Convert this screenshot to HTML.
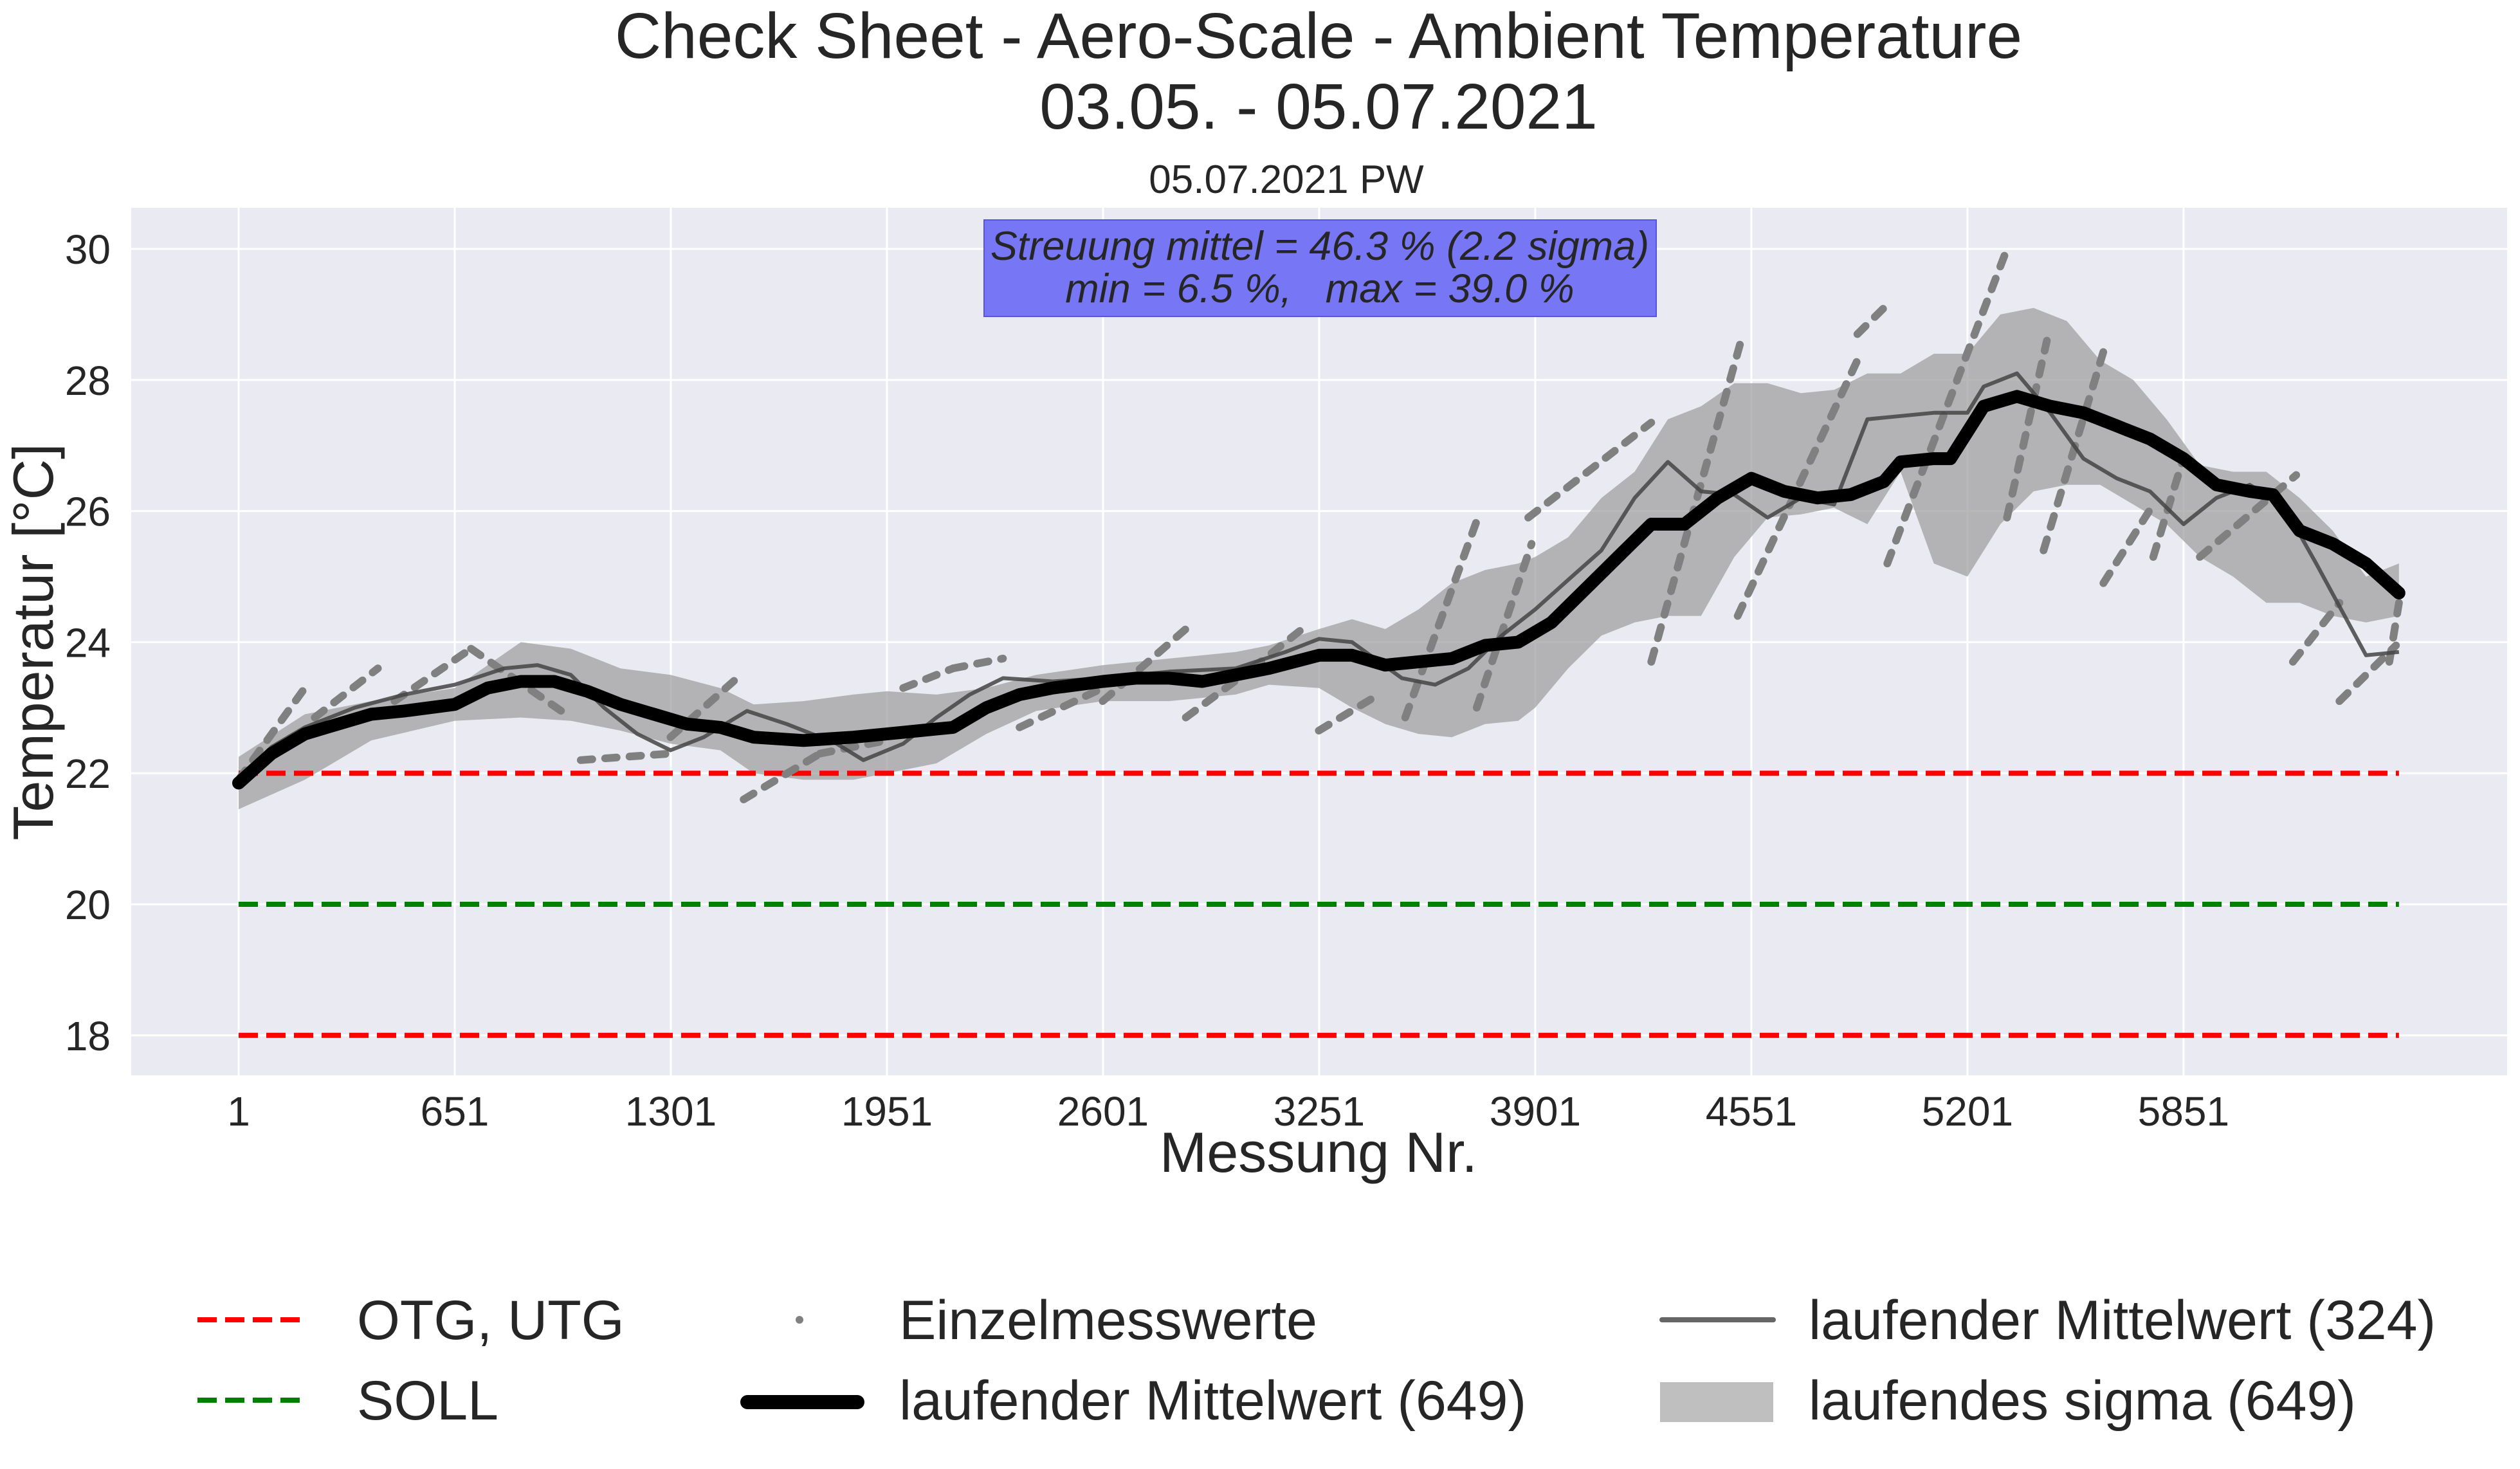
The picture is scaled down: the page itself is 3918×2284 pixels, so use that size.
<!DOCTYPE html>
<html><head><meta charset="utf-8">
<style>
html,body{margin:0;padding:0;background:#fff;}
svg{display:block;font-family:"Liberation Sans",sans-serif;}
</style></head>
<body>
<svg id="chart" width="3918" height="2284" viewBox="0 0 3918 2284" xmlns="http://www.w3.org/2000/svg">
<rect width="3918" height="2284" fill="#fff"/>
<text x="2050" y="90" font-size="100" text-anchor="middle" fill="#262626">Check Sheet - Aero-Scale - Ambient Temperature</text>
<text x="2050" y="200" font-size="100" text-anchor="middle" fill="#262626">03.05. - 05.07.2021</text>
<text x="2000" y="300" font-size="62" text-anchor="middle" fill="#262626">05.07.2021 PW</text>
<rect x="204" y="323" width="3694" height="1349" fill="#eaeaf2"/>
<g id="grid"></g>
<g id="marks"></g>
<g id="axes"></g>
<rect x="1530" y="342" width="1045" height="150" fill="#7777f5" stroke="#5555dd" stroke-width="2"/>
<text x="2052" y="404" font-size="63" font-style="italic" text-anchor="middle" fill="#262626">Streuung mittel = 46.3 % (2.2 sigma)</text>
<text x="2052" y="470" font-size="63" font-style="italic" text-anchor="middle" fill="#262626" xml:space="preserve">min = 6.5 %,   max = 39.0 %</text>
<text transform="translate(82,998) rotate(-90)" font-size="88" text-anchor="middle" fill="#262626">Temperatur [°C]</text>
<text x="2050" y="1822" font-size="88" text-anchor="middle" fill="#262626">Messung Nr.</text>
<g font-size="86" fill="#262626">
  <line x1="307" y1="2052" x2="474" y2="2052" stroke="#ff0000" stroke-width="8" stroke-dasharray="30,13"/>
  <text x="555" y="2082">OTG, UTG</text>
  <line x1="307" y1="2177" x2="474" y2="2177" stroke="#008000" stroke-width="8" stroke-dasharray="30,13"/>
  <text x="555" y="2207">SOLL</text>
  <circle cx="1243" cy="2052" r="6" fill="#808080"/>
  <text x="1398" y="2082">Einzelmesswerte</text>
  <line x1="1162" y1="2180" x2="1333" y2="2180" stroke="#000" stroke-width="22" stroke-linecap="round"/>
  <text x="1398" y="2207">laufender Mittelwert (649)</text>
  <line x1="2584" y1="2052" x2="2757" y2="2052" stroke="#666" stroke-width="8" stroke-linecap="round"/>
  <text x="2812" y="2082">laufender Mittelwert (324)</text>
  <rect x="2581" y="2149" width="176" height="62" fill="#bfbfbf"/>
  <text x="2812" y="2207">laufendes sigma (649)</text>
</g>
</svg>
<script>
const xTicks = [1, 651, 1301, 1951, 2601, 3251, 3901, 4551, 5201, 5851];
const yTicks = [18, 20, 22, 24, 26, 28, 30];
const limits = {otg: 22, utg: 18, soll: 20};
const xRangeData = [1, 6499];
const meanIdx = [1,100,200,300,400,500,651,750,850,950,1050,1150,1250,1350,1450,1550,1700,1850,1951,2050,2150,2250,2350,2450,2601,2700,2800,2900,3000,3100,3251,3350,3450,3550,3650,3750,3850,3950,4050,4150,4250,4350,4450,4551,4650,4750,4850,4950,5000,5100,5150,5250,5350,5450,5550,5650,5750,5851,5950,6050,6120,6200,6300,6400,6499];
const mean649 = [21.85,22.3,22.6,22.75,22.9,22.95,23.05,23.3,23.4,23.4,23.25,23.05,22.9,22.75,22.7,22.55,22.5,22.55,22.6,22.65,22.7,23.0,23.2,23.3,23.4,23.45,23.45,23.4,23.5,23.6,23.8,23.8,23.65,23.7,23.75,23.95,24.0,24.3,24.8,25.3,25.8,25.8,26.2,26.5,26.3,26.2,26.25,26.45,26.75,26.8,26.8,27.6,27.75,27.6,27.5,27.3,27.1,26.8,26.4,26.3,26.25,25.7,25.5,25.2,24.75];
const sigIdx = [1,200,400,651,850,1000,1150,1300,1450,1550,1700,1850,1951,2100,2250,2400,2601,2800,3000,3100,3251,3350,3450,3550,3650,3750,3850,3901,4000,4100,4200,4300,4400,4500,4600,4700,4800,4900,5000,5100,5201,5300,5400,5500,5600,5700,5800,5900,6000,6100,6200,6300,6400,6499];
const sigUpper = [22.25,22.9,23.1,23.3,24.0,23.9,23.6,23.5,23.3,23.05,23.1,23.2,23.25,23.2,23.3,23.5,23.65,23.75,23.85,23.95,24.2,24.35,24.2,24.5,24.9,25.1,25.2,25.3,25.6,26.2,26.6,27.4,27.6,27.95,27.95,27.8,27.85,28.1,28.1,28.4,28.4,29.0,29.1,28.9,28.3,28.0,27.4,26.7,26.6,26.6,26.2,25.7,25.0,25.2];
const sigLower = [21.45,21.9,22.5,22.8,22.85,22.8,22.65,22.45,22.35,22.0,21.9,21.9,22.0,22.15,22.6,22.95,23.1,23.1,23.2,23.35,23.3,23.0,22.75,22.6,22.55,22.75,22.8,23.0,23.6,24.1,24.3,24.4,24.4,25.3,25.9,25.95,26.05,25.8,26.6,25.2,25.0,25.8,26.3,26.4,26.4,26.1,25.8,25.3,25.0,24.6,24.6,24.4,24.3,24.4];
const m324Idx = [1,100,200,350,500,651,800,900,1000,1100,1200,1300,1400,1530,1650,1800,1880,2000,2100,2200,2300,2450,2601,2800,3000,3150,3251,3350,3500,3600,3700,3800,3901,4000,4100,4200,4300,4400,4500,4600,4700,4800,4900,5000,5100,5201,5250,5350,5450,5550,5650,5750,5851,5950,6050,6150,6250,6400,6499];
const mean324 = [21.9,22.4,22.7,23.0,23.2,23.35,23.6,23.65,23.5,23.0,22.6,22.35,22.55,22.95,22.75,22.45,22.2,22.45,22.85,23.2,23.45,23.4,23.45,23.55,23.6,23.85,24.05,24.0,23.45,23.35,23.6,24.1,24.5,24.95,25.4,26.2,26.75,26.3,26.25,25.9,26.2,26.1,27.4,27.45,27.5,27.5,27.9,28.1,27.5,26.8,26.5,26.3,25.8,26.2,26.4,26.1,25.2,23.8,23.85];
const segStart = [1,230,470,700,1030,1300,1520,1750,2000,2150,2350,2600,2850,3050,3250,3510,3725,3880,4250,4510,4870,4960,5320,5430,5610,5760,5900,6180,6320,6470];
const segEnd   = [200,420,700,1000,1300,1500,1750,1950,2150,2300,2600,2850,3050,3200,3430,3725,3890,4250,4520,4870,4970,5320,5440,5620,5760,5850,6190,6320,6490,6499];
const segT0    = [21.9,22.85,23.1,23.9,22.2,22.55,21.6,22.3,23.3,23.6,22.7,23.1,22.85,23.6,22.65,22.85,23.0,25.9,23.7,24.4,28.7,25.2,25.9,25.4,24.9,25.3,25.3,23.7,23.1,23.7];
const segT1    = [23.3,23.6,23.9,22.85,22.3,23.45,22.3,22.5,23.6,23.75,23.3,24.2,23.6,24.2,23.2,25.85,25.5,27.35,28.6,28.3,29.2,30.0,28.6,28.6,26.1,26.8,26.55,24.6,23.95,24.6];

const NS = 'http://www.w3.org/2000/svg';
const X = i => 371 + (i - 1) * 0.5169;
const Y = t => 387 + (30 - t) * 101.9;
function mk(tag, attrs, parent) {
  const e = document.createElementNS(NS, tag);
  for (const k in attrs) e.setAttribute(k, attrs[k]);
  parent.appendChild(e);
  return e;
}
const grid = document.getElementById('grid');
const marks = document.getElementById('marks');
const axes = document.getElementById('axes');
xTicks.forEach(v => {
  const g = mk('line', {x1: X(v), x2: X(v), y1: 323, y2: 1672, stroke: '#fff', 'stroke-width': 3}, grid);
  
  
  const t = mk('text', {x: X(v), y: 1750, 'font-size': 64, 'text-anchor': 'middle', fill: '#262626'}, axes);
  t.textContent = v;
  
  
});
yTicks.forEach(v => {
  const g = mk('line', {x1: 204, x2: 3898, y1: Y(v), y2: Y(v), stroke: '#fff', 'stroke-width': 3}, grid);
  
  
  const t = mk('text', {x: 172, y: Y(v) + 23, 'font-size': 64, 'text-anchor': 'end', fill: '#262626'}, axes);
  t.textContent = v;
  
  
});
let d = sigIdx.map((v, k) => (k ? 'L' : 'M') + X(v).toFixed(1) + ',' + Y(sigUpper[k]).toFixed(1)).join('');
for (let k = sigIdx.length - 1; k >= 0; k--) d += 'L' + X(sigIdx[k]).toFixed(1) + ',' + Y(sigLower[k]).toFixed(1);
const band = mk('path', {d: d + 'Z', fill: '#a0a0a0', 'fill-opacity': 0.75}, marks);


[['otg', limits.otg, '#ff0000'], ['utg', limits.utg, '#ff0000'], ['soll', limits.soll, '#008000']].forEach(([n, v, c]) => {
  const l = mk('line', {x1: X(xRangeData[0]), x2: X(xRangeData[1]), y1: Y(v), y2: Y(v), stroke: c, 'stroke-width': 8, 'stroke-dasharray': '30,13'}, marks);
  
  
});
segStart.forEach((s, k) => {
  const l = mk('line', {x1: X(s), y1: Y(segT0[k]), x2: X(segEnd[k]), y2: Y(segT1[k]), stroke: '#808080', 'stroke-width': 12, 'stroke-linecap': 'round', 'stroke-dasharray': '18,20'}, marks);
  
  
});
const p324 = mk('path', {d: m324Idx.map((v, k) => (k ? 'L' : 'M') + X(v).toFixed(1) + ',' + Y(mean324[k]).toFixed(1)).join(''), fill: 'none', stroke: '#444', 'stroke-opacity': 0.85, 'stroke-width': 6, 'stroke-linejoin': 'round'}, marks);


const p649 = mk('path', {d: meanIdx.map((v, k) => (k ? 'L' : 'M') + X(v).toFixed(1) + ',' + Y(mean649[k]).toFixed(1)).join(''), fill: 'none', stroke: '#000', 'stroke-width': 20, 'stroke-linejoin': 'round', 'stroke-linecap': 'round'}, marks);


</script>
</body></html>
